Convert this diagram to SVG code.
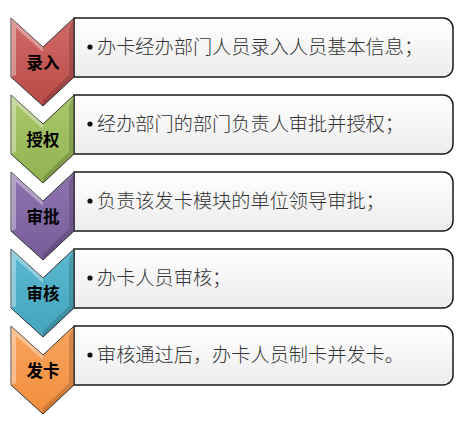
<svg xmlns="http://www.w3.org/2000/svg" width="469" height="422" viewBox="0 0 469 422">
<style>
.box{fill:url(#boxg);stroke:#1a1a1a;stroke-width:1.5}
.chev{stroke:#333;stroke-width:1}
.hi{fill:#fff;opacity:0.35}
.sh{fill:#000;opacity:0.15}
.lbl{font-family:"Noto Sans CJK SC",sans-serif;font-size:16.5px;font-weight:bold;fill:#000;text-anchor:middle}
.txt{font-family:"Noto Sans CJK SC",sans-serif;font-size:19.2px;font-weight:300;fill:#333}
.dot{fill:#111}
</style>
<defs>
<linearGradient id="boxg" x1="0" y1="0" x2="0" y2="1">
<stop offset="0" stop-color="#ffffff"/><stop offset="1" stop-color="#ececec"/>
</linearGradient>
<linearGradient id="gr" x1="0" y1="0" x2="0" y2="1"><stop offset="0" stop-color="#d06a67"/><stop offset="1" stop-color="#b84a47"/></linearGradient>
<linearGradient id="gg" x1="0" y1="0" x2="0" y2="1"><stop offset="0" stop-color="#a9c76c"/><stop offset="1" stop-color="#92b250"/></linearGradient>
<linearGradient id="gp" x1="0" y1="0" x2="0" y2="1"><stop offset="0" stop-color="#8e74ae"/><stop offset="1" stop-color="#785c9a"/></linearGradient>
<linearGradient id="gt" x1="0" y1="0" x2="0" y2="1"><stop offset="0" stop-color="#5bb8d0"/><stop offset="1" stop-color="#45a4be"/></linearGradient>
<linearGradient id="go" x1="0" y1="0" x2="0" y2="1"><stop offset="0" stop-color="#f8a45e"/><stop offset="1" stop-color="#f28e3e"/></linearGradient>
</defs>

<g id="step1">
<path class="box" d="M74,18 H443 A10,10 0 0 1 453,28 V67 A10,10 0 0 1 443,77 H74 Z"/>
<polygon class="chev" fill="url(#gr)" points="11,18 43,47 74,18 74,77 43,106 11,77"/>
<polygon class="hi" points="11,18 43,47 43,52 16,28 16,75 11,77"/>
<polygon class="sh" points="74,18 74,77 43,106 43,100 69,75 69,28"/>
<text class="lbl" x="43" y="69">录入</text>
<circle class="dot" cx="90" cy="47" r="2.6"/>
<text class="txt" x="97" y="54">办卡经办部门人员录入人员基本信息；</text>
</g>

<g id="step2">
<path class="box" d="M74,95 H443 A10,10 0 0 1 453,105 V144 A10,10 0 0 1 443,154 H74 Z"/>
<polygon class="chev" fill="url(#gg)" points="11,95 43,124 74,95 74,154 43,183 11,154"/>
<polygon class="hi" points="11,95 43,124 43,129 16,105 16,152 11,154"/>
<polygon class="sh" points="74,95 74,154 43,183 43,177 69,152 69,105"/>
<text class="lbl" x="43" y="146">授权</text>
<circle class="dot" cx="90" cy="124" r="2.6"/>
<text class="txt" x="97" y="131">经办部门的部门负责人审批并授权；</text>
</g>

<g id="step3">
<path class="box" d="M74,172 H443 A10,10 0 0 1 453,182 V221 A10,10 0 0 1 443,231 H74 Z"/>
<polygon class="chev" fill="url(#gp)" points="11,172 43,201 74,172 74,231 43,260 11,231"/>
<polygon class="hi" points="11,172 43,201 43,206 16,182 16,229 11,231"/>
<polygon class="sh" points="74,172 74,231 43,260 43,254 69,229 69,182"/>
<text class="lbl" x="43" y="223">审批</text>
<circle class="dot" cx="90" cy="201" r="2.6"/>
<text class="txt" x="97" y="208">负责该发卡模块的单位领导审批；</text>
</g>

<g id="step4">
<path class="box" d="M74,249 H443 A10,10 0 0 1 453,259 V298 A10,10 0 0 1 443,308 H74 Z"/>
<polygon class="chev" fill="url(#gt)" points="11,249 43,278 74,249 74,308 43,337 11,308"/>
<polygon class="hi" points="11,249 43,278 43,283 16,259 16,306 11,308"/>
<polygon class="sh" points="74,249 74,308 43,337 43,331 69,306 69,259"/>
<text class="lbl" x="43" y="300">审核</text>
<circle class="dot" cx="90" cy="278" r="2.6"/>
<text class="txt" x="97" y="285">办卡人员审核；</text>
</g>

<g id="step5">
<path class="box" d="M74,326 H443 A10,10 0 0 1 453,336 V375 A10,10 0 0 1 443,385 H74 Z"/>
<polygon class="chev" fill="url(#go)" points="11,326 43,355 74,326 74,385 43,414 11,385"/>
<polygon class="hi" points="11,326 43,355 43,360 16,336 16,383 11,385"/>
<polygon class="sh" points="74,326 74,385 43,414 43,408 69,383 69,336"/>
<text class="lbl" x="43" y="377">发卡</text>
<circle class="dot" cx="90" cy="355" r="2.6"/>
<text class="txt" x="97" y="362">审核通过后，办卡人员制卡并发卡。</text>
</g>

<g id="connectors"></g>
</svg>
